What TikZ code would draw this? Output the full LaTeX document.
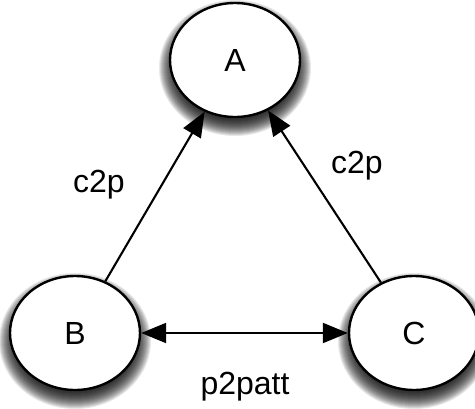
\documentclass[tikz,border=0pt]{standalone}
\usepackage{fontspec}
\setmainfont{Liberation Sans}
\usetikzlibrary{shapes.geometric,arrows.meta}

\tikzset{
  role/.style={ellipse,draw,line width=2.4pt,fill=white,inner sep=0pt,
    minimum width=130pt,minimum height=114pt},
  rel/.style={line width=2.1pt,-{Triangle[length=25pt,width=20pt]}},
  tag/.style={inner sep=0pt}
}

\begin{document}
\begin{tikzpicture}[x=1pt,y=-1pt,font=\fontsize{32}{38}\selectfont]
\useasboundingbox (0,0) rectangle (475,408);
% soft shadows under the roles
\foreach \p in {(235,60),(75,333),(414,333)}
  \foreach \r in {-4,...,12}
    \fill[black,opacity=0.09] \p ++(0,8) ellipse ({64+\r} and {56+\r});
\node[role] (A) at (235,60) {A};
\node[role] (B) at (75,333) {B};
\node[role] (C) at (414,333) {C};
\draw[rel] (B) -- (A);
\draw[rel] (C) -- (A);
\draw[rel,{Triangle[length=25pt,width=20pt]}-{Triangle[length=25pt,width=20pt]}] (B) -- (C);
\node[tag] (l1) at (99,185) {c2p};
\node[tag] (l2) at (357,166) {c2p};
\node[tag] (l3) at (245,387) {p2patt};
\end{tikzpicture}
\end{document}
